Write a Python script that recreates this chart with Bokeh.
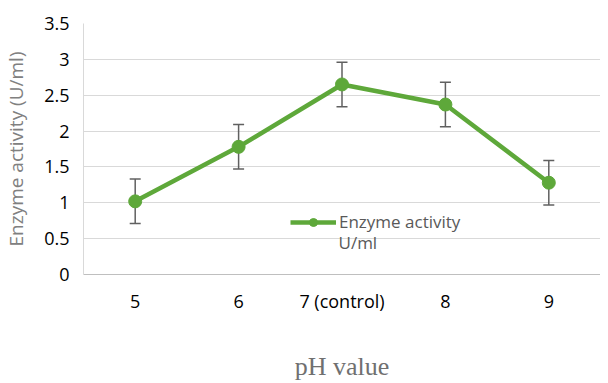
from bokeh.plotting import figure
from bokeh.models import ColumnDataSource, Whisker, Legend, LegendItem, Label, FactorRange
from bokeh.embed import file_html
from bokeh.resources import INLINE

categories = ["5", "6", "7 (control)", "8", "9"]
activity = [1.02, 1.78, 2.65, 2.37, 1.28]
error = [0.31, 0.31, 0.31, 0.31, 0.31]
y_ticks = [0, 0.5, 1, 1.5, 2, 2.5, 3, 3.5]

green = "#5ea83a"
src = ColumnDataSource(dict(
    x=categories, y=activity,
    upper=[a + e for a, e in zip(activity, error)],
    lower=[a - e for a, e in zip(activity, error)],
))

p = figure(x_range=FactorRange(*categories), y_range=(0, 3.5),
           width=600, height=375, output_backend="svg", toolbar_location=None,
           min_border_left=83, min_border_right=0, min_border_top=23, min_border_bottom=101)
p.frame_width = 517
p.frame_height = 251

w = Whisker(source=src, base="x", upper="upper", lower="lower",
            line_color="#606060", line_width=1.5)
w.upper_head.line_color = "#606060"
w.lower_head.line_color = "#606060"
w.upper_head.line_width = 1.5
w.lower_head.line_width = 1.5
w.upper_head.size = 11
w.lower_head.size = 11
p.add_layout(w)

ln = p.line("x", "y", source=src, line_color=green, line_width=4.5)
sc = p.scatter("x", "y", source=src, size=13, fill_color=green, line_color=green)

legend = Legend(items=[LegendItem(label="Enzyme activity", renderers=[ln, sc])],
                location=(207, 41), background_fill_alpha=0, border_line_alpha=0,
                glyph_width=46, label_standoff=3, padding=0, margin=0,
                label_text_font="Open Sans", label_text_font_size="17px",
                label_text_color="#595959")
p.add_layout(legend, "center")
p.add_layout(Label(x=255, y=32, x_units="screen", y_units="screen", text="U/ml",
                   text_font="Open Sans", text_font_size="17px", text_color="#595959",
                   text_baseline="middle"))

p.xgrid.grid_line_color = None
p.ygrid.grid_line_color = "#d9d9d9"
p.ygrid.grid_line_width = 1
p.outline_line_color = None

p.yaxis.ticker = y_ticks
p.yaxis.major_label_overrides = {0: "0", 0.5: "0.5", 1: "1", 1.5: "1.5", 2: "2",
                                 2.5: "2.5", 3: "3", 3.5: "3.5"}
for ax in (p.xaxis[0], p.yaxis[0]):
    ax.major_tick_line_color = None
    ax.minor_tick_line_color = None
    ax.major_tick_out = 0
    ax.major_tick_in = 0
    ax.minor_tick_out = 0
    ax.major_label_text_font = "Open Sans"
    ax.major_label_text_font_size = "18px"
    ax.major_label_text_color = "#000000"

p.yaxis.axis_line_color = "#d9d9d9"
p.xaxis.axis_line_color = "#bfbfbf"
p.yaxis.major_label_standoff = 14
p.xaxis.major_label_standoff = 14

p.yaxis.axis_label = "Enzyme activity (U/ml)"
p.yaxis.axis_label_text_font = "Open Sans"
p.yaxis.axis_label_text_font_style = "normal"
p.yaxis.axis_label_text_font_size = "19px"
p.yaxis.axis_label_text_color = "#808080"
p.yaxis.axis_label_standoff = 12

p.xaxis.axis_label = "pH value"
p.xaxis.axis_label_text_font = "Liberation Serif"
p.xaxis.axis_label_text_font_style = "normal"
p.xaxis.axis_label_text_font_size = "26px"
p.xaxis.axis_label_text_color = "#707070"
p.xaxis.axis_label_standoff = 36

p.background_fill_color = "white"
p.border_fill_color = "white"

open("out.html", "w").write(file_html(p, INLINE))
